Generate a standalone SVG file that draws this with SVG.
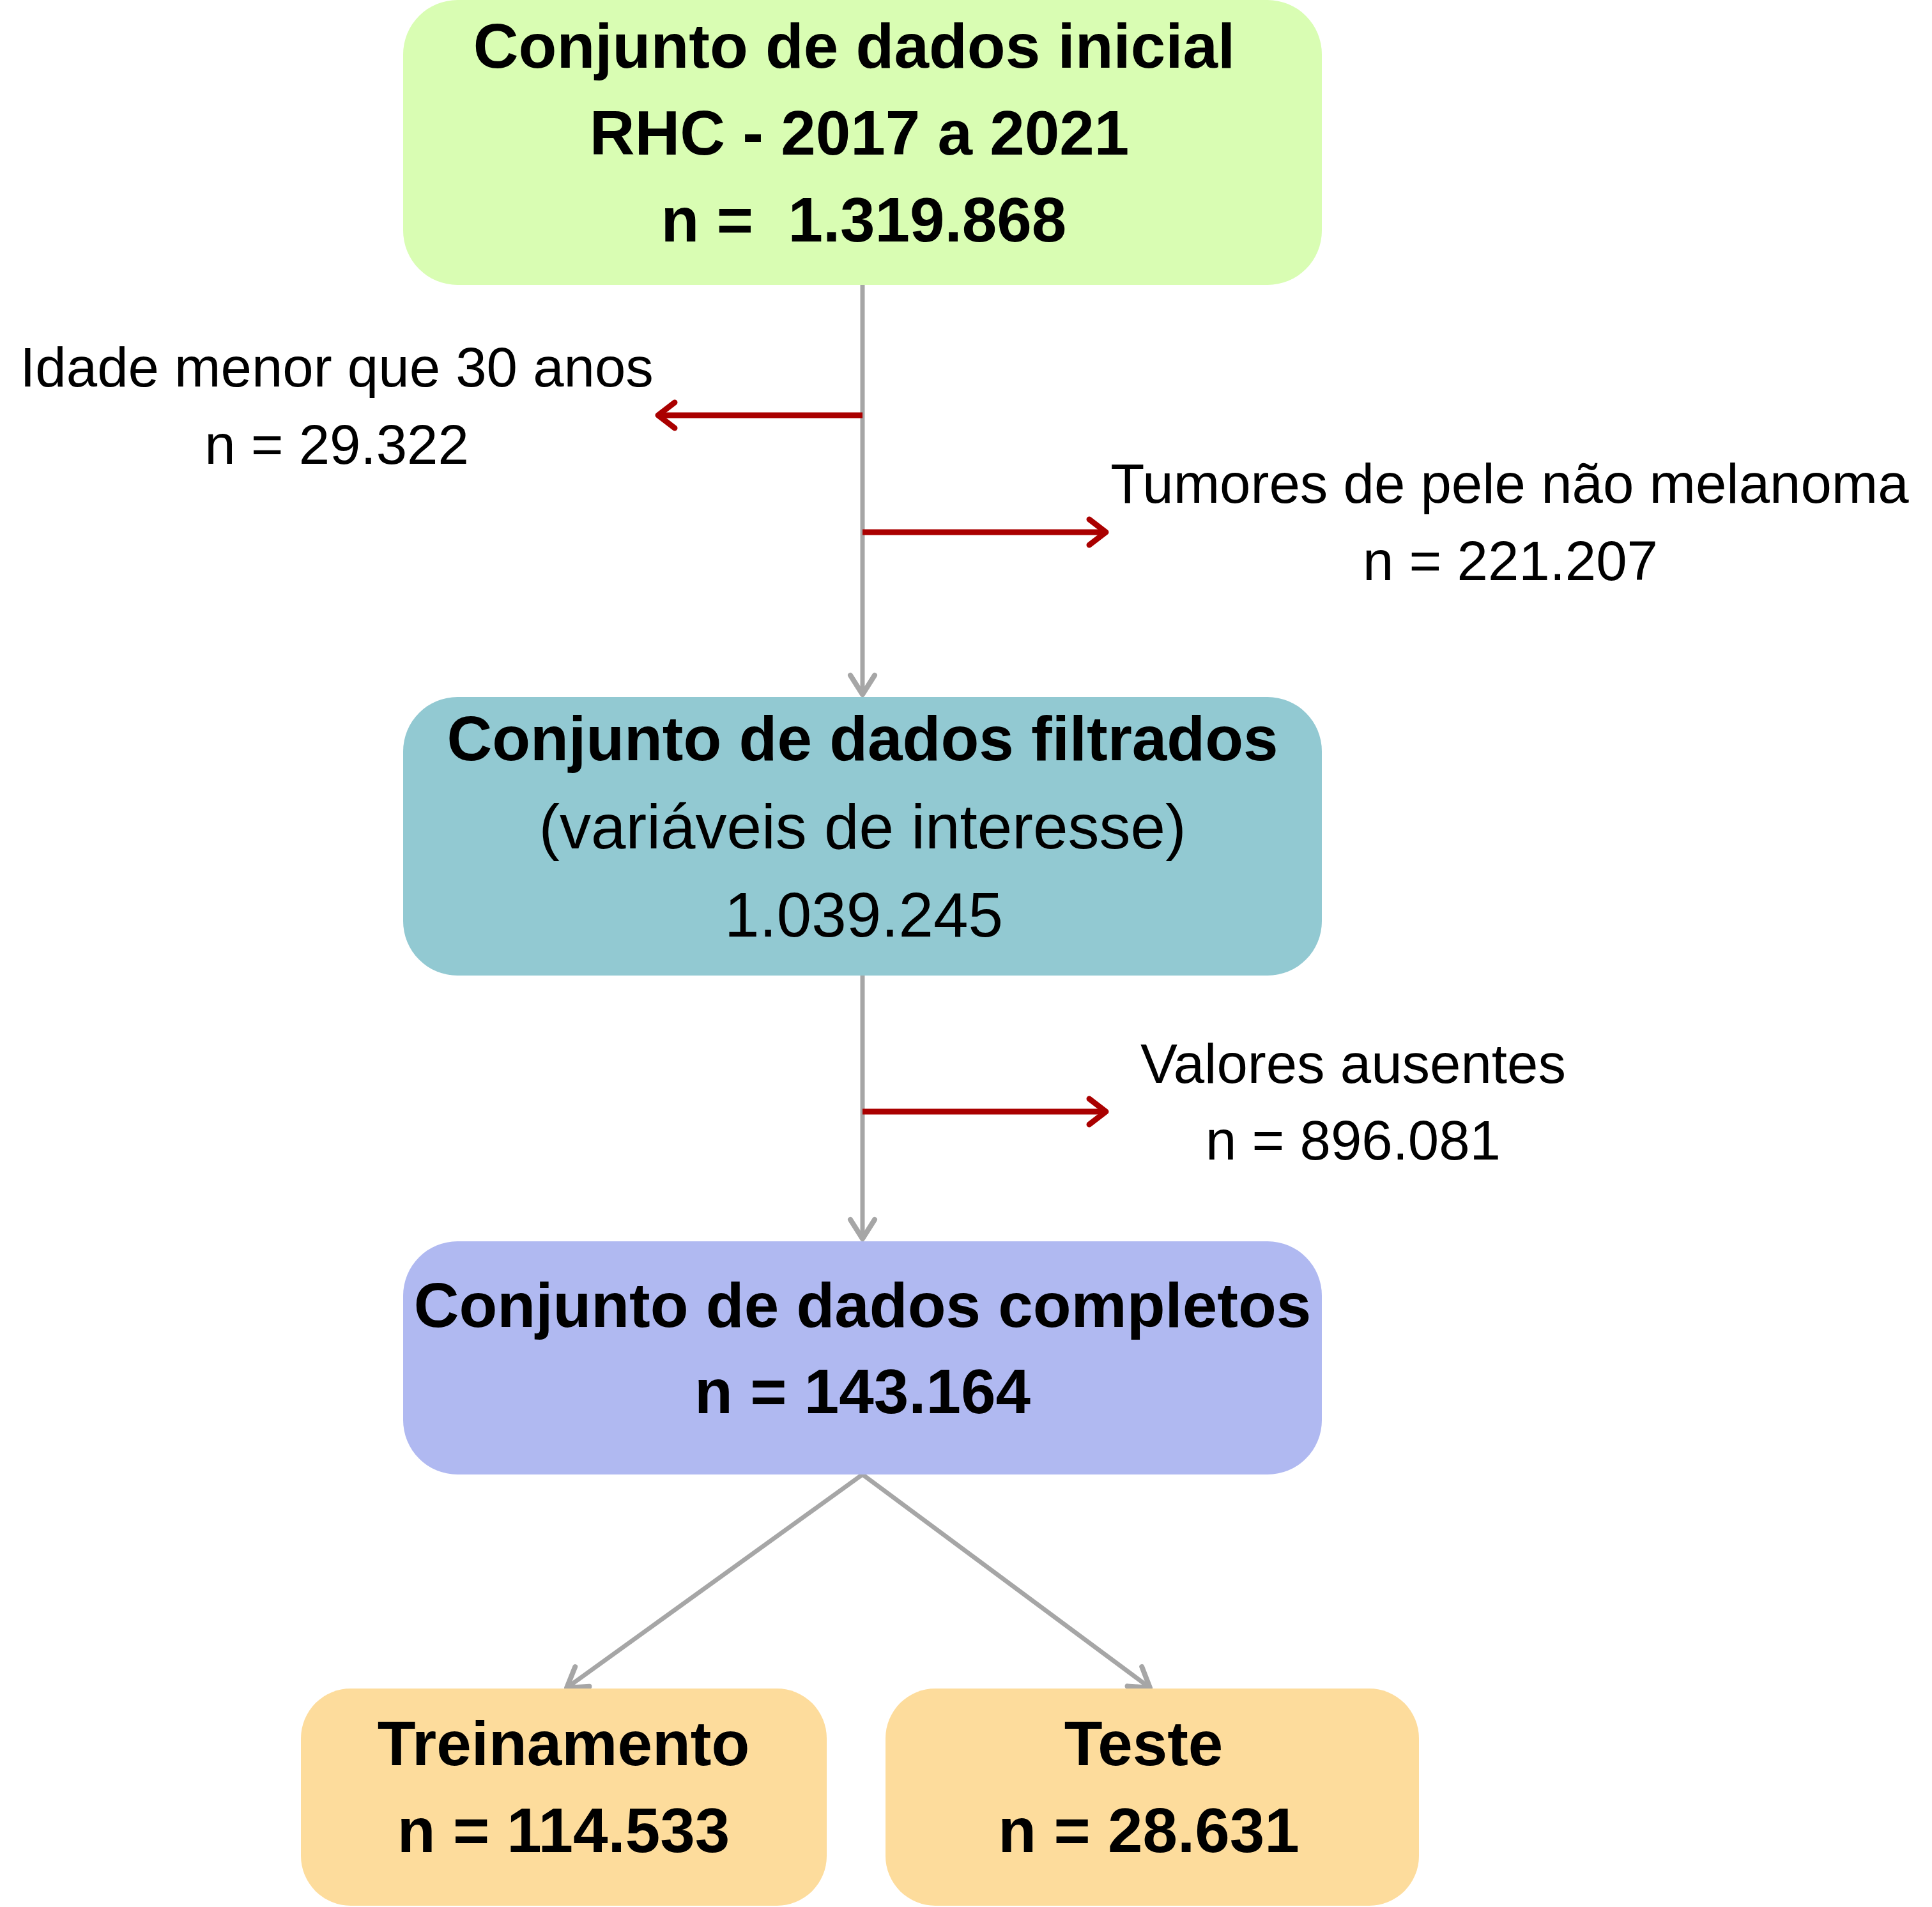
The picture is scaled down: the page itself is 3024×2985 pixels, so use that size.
<svg xmlns="http://www.w3.org/2000/svg" width="3024" height="2985" viewBox="0 0 3024 2985">
<style>
text{font-family:"Liberation Sans",Arial,sans-serif;fill:#000;text-anchor:middle}
.b{font-weight:bold;font-size:98px}
.r{font-size:98px}
.s{font-size:87px}
.g{stroke:#a6a6a6;stroke-width:7;fill:none}
.red{stroke:#aa0000;stroke-width:9;fill:none}
</style>
<defs>
<marker id="ag" markerUnits="userSpaceOnUse" markerWidth="60" markerHeight="60" viewBox="-40 -30 50 60" refX="0" refY="0" orient="auto" overflow="visible">
<path d="M-30,-19 L0,0 L-30,19" fill="none" stroke="#a6a6a6" stroke-width="8" stroke-linecap="round" stroke-linejoin="round"/>
</marker>
<marker id="ar" markerUnits="userSpaceOnUse" markerWidth="60" markerHeight="60" viewBox="-40 -30 50 60" refX="0" refY="0" orient="auto" overflow="visible">
<path d="M-26,-20 L0,0 L-26,20" fill="none" stroke="#aa0000" stroke-width="9" stroke-linecap="round" stroke-linejoin="round"/>
</marker>
</defs>
<rect width="3024" height="2985" fill="#fff"/>
<g id="connectors">
<line class="g" x1="1350" y1="446" x2="1350" y2="1087" marker-end="url(#ag)"/>
<line class="red" x1="1350" y1="650" x2="1030" y2="650" marker-end="url(#ar)"/>
<line class="red" x1="1350" y1="833" x2="1731" y2="833" marker-end="url(#ar)"/>
<line class="g" x1="1350" y1="1527" x2="1350" y2="1939" marker-end="url(#ag)"/>
<line class="red" x1="1350" y1="1740" x2="1731" y2="1740" marker-end="url(#ar)"/>
<line class="g" x1="1350" y1="2308" x2="887" y2="2642" marker-end="url(#ag)"/>
<line class="g" x1="1350" y1="2308" x2="1800" y2="2642" marker-end="url(#ag)"/>
</g>
<g id="label-idade">
<text class="s" x="527" y="605">Idade menor que 30 anos</text>
<text class="s" x="527" y="726">n = 29.322</text>
</g>
<g id="label-tumores">
<text class="s" x="2363" y="787">Tumores de pele não melanoma</text>
<text class="s" x="2364" y="908">n = 221.207</text>
</g>
<g id="label-valores">
<text class="s" x="2118" y="1695">Valores ausentes</text>
<text class="s" x="2118" y="1815">n = 896.081</text>
</g>
<g id="node-inicial">
<rect x="631" y="0" width="1438" height="446" rx="85" ry="85" fill="#d9fdb3"/>
<text class="b" x="1337" y="106">Conjunto de dados inicial</text>
<text class="b" x="1345" y="242">RHC - 2017 a 2021</text>
<text class="b" x="1352" y="378" xml:space="preserve">n =  1.319.868</text>
</g>
<g id="node-filtrados">
<rect x="631" y="1091" width="1438" height="436" rx="85" ry="85" fill="#92c9d2"/>
<text class="b" x="1350" y="1190">Conjunto de dados filtrados</text>
<text class="r" x="1350" y="1328">(variáveis de interesse)</text>
<text class="r" x="1352" y="1466">1.039.245</text>
</g>
<g id="node-completos">
<rect x="631" y="1943" width="1438" height="365" rx="85" ry="85" fill="#b0b9f1"/>
<text class="b" x="1350" y="2077">Conjunto de dados completos</text>
<text class="b" x="1350" y="2212">n = 143.164</text>
</g>
<g id="node-treinamento">
<rect x="471" y="2643" width="823" height="340" rx="78" ry="78" fill="#fddc9c"/>
<text class="b" x="882" y="2763">Treinamento</text>
<text class="b" x="882" y="2899">n = 114.533</text>
</g>
<g id="node-teste">
<rect x="1386" y="2643" width="835" height="340" rx="78" ry="78" fill="#fddc9c"/>
<text class="b" x="1790" y="2763">Teste</text>
<text class="b" x="1798" y="2899">n = 28.631</text>
</g>
</svg>
